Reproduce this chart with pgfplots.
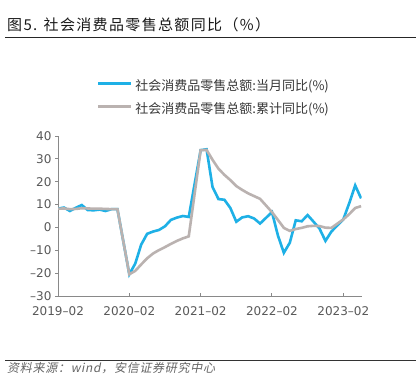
\documentclass[border=0pt]{standalone}
\usepackage{fontspec}
\usepackage{pgfplots}
\pgfplotsset{compat=1.18}
\setmainfont{DejaVu Sans}
\newfontfamily\cjk{Noto Sans CJK SC}
\newfontfamily\cjkwide{Noto Sans CJK SC}[LetterSpace=9]
\newfontfamily\cjkslant{Noto Sans CJK SC}[FakeSlant=0.2, LetterSpace=6]
\definecolor{cblue}{RGB}{30,176,230}
\definecolor{cgray}{RGB}{186,178,176}
\definecolor{axgray}{RGB}{137,137,137}
\definecolor{lblgray}{RGB}{89,89,89}
\begin{document}
\begin{tikzpicture}
\useasboundingbox[fill=white] (0pt,0pt) rectangle (419pt,383pt);
\node[anchor=west, inner sep=0pt, text=black!90] at (7pt,358pt) {\cjkwide\fontsize{15}{17}\selectfont 图5. 社会消费品零售总额同比（\%）};
\draw[line width=1.3pt, black!85] (5pt,345.5pt) -- (416pt,345.5pt);
\draw[line width=1.2pt, black!80] (5pt,22.5pt) -- (416pt,22.5pt);
\node[anchor=west, inner sep=0pt, text=black!60] at (7pt,15pt) {\cjkslant\fontsize{12}{14}\selectfont 资料来源：wind，安信证券研究中心};
\begin{axis}[
  at={(58pt,87pt)}, anchor=south west,
  scale only axis, width=303.7pt, height=160pt,
  xmin=0, xmax=51.1, ymin=-30, ymax=40,
  axis lines=left,
  axis line style={-, axgray, line width=1pt},
  xtick={0,12,24,36,48},
  xticklabels={2019–02,2020–02,2021–02,2022–02,2023–02},
  ytick={-30,-20,-10,0,10,20,30,40},
  yticklabels={–30,–20,–10,0,10,20,30,40},
  xtick align=inside, ytick align=outside,
  major tick length=3pt,
  tick style={axgray, line width=1pt},
  tick label style={font=\fontsize{12}{14}\selectfont, text=lblgray},
  x tick label style={yshift=-7pt},
  legend style={draw=none, fill=none, at={(0.1274,1.349)}, anchor=north west,
    inner sep=0pt, row sep=10.3pt, column sep=3pt,
    nodes={inner sep=0pt, text height=10pt, text depth=3pt, text=black!78, font=\cjk\fontsize{13}{14}\selectfont}},
  legend cell align=left,
  legend image code/.code={\draw[#1] (0pt,3.5pt) -- (33pt,3.5pt);},
]
\addplot[cblue, line width=2.6pt] coordinates {
(0,8.2)(1,8.7)(2,7.2)(3,8.6)(4,9.8)(5,7.6)(6,7.5)(7,7.8)(8,7.2)(9,8.0)(10,8.0)
(12,-20.5)(13,-15.8)(14,-7.5)(15,-2.8)(16,-1.8)(17,-1.1)(18,0.5)(19,3.3)(20,4.3)(21,5.0)(22,4.6)
(24,33.8)(25,34.2)(26,17.7)(27,12.4)(28,12.1)(29,8.5)(30,2.5)(31,4.4)(32,4.9)(33,3.9)(34,1.7)
(36,6.7)(37,-3.5)(38,-11.1)(39,-6.7)(40,3.1)(41,2.7)(42,5.4)(43,2.5)(44,-0.5)(45,-5.9)(46,-1.8)
(48,3.5)(49,10.6)(50,18.4)(51,12.7)
};
\addlegendentry{社会消费品零售总额:当月同比(\%)}
\addplot[cgray, line width=2.6pt] coordinates {
(0,8.2)(1,8.3)(2,8.0)(3,8.1)(4,8.4)(5,8.3)(6,8.2)(7,8.2)(8,8.1)(9,8.0)(10,8.0)
(12,-20.5)(13,-19.0)(14,-16.2)(15,-13.5)(16,-11.4)(17,-9.9)(18,-8.6)(19,-7.2)(20,-5.9)(21,-4.8)(22,-3.9)
(24,33.8)(25,33.9)(26,29.6)(27,25.7)(28,23.0)(29,20.7)(30,18.1)(31,16.4)(32,14.9)(33,13.7)(34,12.5)
(36,6.7)(37,3.3)(38,-0.2)(39,-1.5)(40,-0.7)(41,-0.2)(42,0.5)(43,0.7)(44,0.6)(45,-0.1)(46,-0.2)
(48,3.5)(49,5.8)(50,8.5)(51,9.3)
};
\addlegendentry{社会消费品零售总额:累计同比(\%)}
\end{axis}
\end{tikzpicture}
\end{document}
